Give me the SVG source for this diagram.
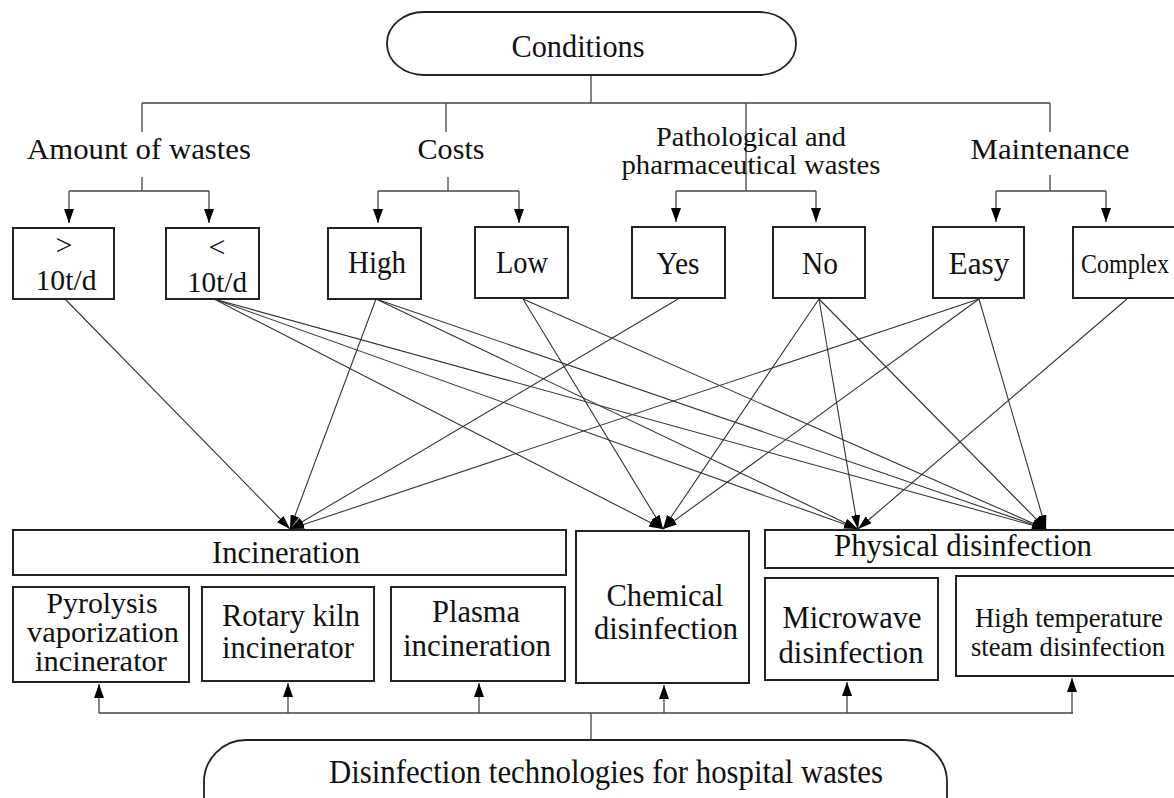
<svg xmlns="http://www.w3.org/2000/svg" width="1174" height="798" viewBox="0 0 1174 798">
<defs>
<style>
.bx{fill:#fff;stroke:#222;stroke-width:2}
.pill{fill:#fff;stroke:#222;stroke-width:1.8}
.ln{fill:none;stroke:#444;stroke-width:1.3}
.dg{fill:none;stroke:#333;stroke-width:1.1}
text{font-family:"Liberation Serif","Times New Roman",serif;fill:#111;text-anchor:middle}
.t30{font-size:30px}
.t31{font-size:31px}
.t27{font-size:27px}
</style>
<marker id="ah" viewBox="0 0 14 10" refX="14" refY="5" markerWidth="14" markerHeight="10" markerUnits="userSpaceOnUse" orient="auto">
<path d="M0,0 L14,5 L0,10 z" fill="#000"/>
</marker>
<marker id="ad" viewBox="0 0 14 9" refX="14" refY="4.5" markerWidth="14" markerHeight="9" markerUnits="userSpaceOnUse" orient="auto">
<path d="M0,0 L14,4.5 L0,9 z" fill="#000"/>
</marker>
</defs>

<g id="connectors">
<!-- top tree -->
<line class="ln" x1="591" y1="75" x2="591" y2="103"/>
<line class="ln" x1="142" y1="103" x2="1050" y2="103"/>
<line class="ln" x1="142" y1="103" x2="142" y2="132"/>
<line class="ln" x1="446" y1="103" x2="446" y2="132"/>
<line class="ln" x1="746" y1="103" x2="746" y2="191"/>
<line class="ln" x1="1050" y1="103" x2="1050" y2="132"/>
<line class="ln" x1="142" y1="177" x2="142" y2="191"/>
<line class="ln" x1="448" y1="177" x2="448" y2="191"/>
<line class="ln" x1="1050" y1="175" x2="1050" y2="191"/>
<line class="ln" x1="69" y1="191" x2="209" y2="191"/>
<line class="ln" x1="378" y1="191" x2="519" y2="191"/>
<line class="ln" x1="676" y1="191" x2="816" y2="191"/>
<line class="ln" x1="996" y1="191" x2="1106" y2="191"/>
<g marker-end="url(#ah)">
<line class="ln" x1="69" y1="191" x2="69" y2="223"/>
<line class="ln" x1="209" y1="191" x2="209" y2="223"/>
<line class="ln" x1="378" y1="191" x2="378" y2="223"/>
<line class="ln" x1="519" y1="191" x2="519" y2="223"/>
<line class="ln" x1="676" y1="191" x2="676" y2="222"/>
<line class="ln" x1="816" y1="191" x2="816" y2="222"/>
<line class="ln" x1="996" y1="191" x2="996" y2="222"/>
<line class="ln" x1="1106" y1="191" x2="1106" y2="222"/>
</g>
<!-- diagonal links -->
<g marker-end="url(#ad)">
<line class="dg" x1="65" y1="299" x2="290" y2="529"/>
<line class="dg" x1="214" y1="299" x2="663" y2="529"/>
<line class="dg" x1="214" y1="299" x2="858" y2="529"/>
<line class="dg" x1="214" y1="299" x2="1046" y2="529"/>
<line class="dg" x1="376" y1="299" x2="290" y2="529"/>
<line class="dg" x1="376" y1="299" x2="858" y2="529"/>
<line class="dg" x1="376" y1="299" x2="1046" y2="529"/>
<line class="dg" x1="523" y1="299" x2="663" y2="529"/>
<line class="dg" x1="523" y1="299" x2="1046" y2="529"/>
<line class="dg" x1="678" y1="299" x2="290" y2="529"/>
<line class="dg" x1="819" y1="299" x2="663" y2="529"/>
<line class="dg" x1="819" y1="299" x2="858" y2="529"/>
<line class="dg" x1="819" y1="299" x2="1046" y2="529"/>
<line class="dg" x1="979" y1="299" x2="290" y2="529"/>
<line class="dg" x1="979" y1="299" x2="663" y2="529"/>
<line class="dg" x1="979" y1="299" x2="1046" y2="529"/>
<line class="dg" x1="1127" y1="299" x2="858" y2="529"/>
</g>
<!-- bottom tree -->
<line class="ln" x1="591" y1="713" x2="591" y2="740"/>
<line class="ln" x1="99" y1="713" x2="1073" y2="713"/>
<g marker-end="url(#ah)">
<line class="ln" x1="99" y1="713" x2="99" y2="684"/>
<line class="ln" x1="288" y1="713" x2="288" y2="683"/>
<line class="ln" x1="479" y1="713" x2="479" y2="683"/>
<line class="ln" x1="664" y1="713" x2="664" y2="685"/>
<line class="ln" x1="847" y1="713" x2="847" y2="682"/>
<line class="ln" x1="1072" y1="713" x2="1072" y2="678"/>
</g>
</g>

<g id="conditions">
<rect class="pill" x="387" y="12" width="409" height="63" rx="37" ry="31"/>
<text x="578" y="57" style="font-size:32px" textLength="133" lengthAdjust="spacingAndGlyphs">Conditions</text>
</g>

<g id="label-amount"><text class="t30" x="139" y="159" textLength="224" lengthAdjust="spacingAndGlyphs">Amount of wastes</text></g>
<g id="label-costs"><text class="t30" x="451" y="159" textLength="67" lengthAdjust="spacingAndGlyphs">Costs</text></g>
<g id="label-patho">
<text x="751" y="146" style="font-size:28px" textLength="190" lengthAdjust="spacingAndGlyphs">Pathological and</text>
<text x="751" y="174" style="font-size:28px" textLength="259" lengthAdjust="spacingAndGlyphs">pharmaceutical wastes</text>
</g>
<g id="label-maint"><text class="t30" x="1050" y="159" textLength="159" lengthAdjust="spacingAndGlyphs">Maintenance</text></g>

<g id="gt10"><rect class="bx" x="13" y="228" width="101" height="71"/>
<text class="t30" x="64" y="255">&gt;</text><text class="t30" x="66" y="290" textLength="61" lengthAdjust="spacingAndGlyphs">10t/d</text></g>
<g id="lt10"><rect class="bx" x="166" y="228" width="93" height="71"/>
<text class="t30" x="217" y="257">&lt;</text><text class="t30" x="217" y="292" textLength="60" lengthAdjust="spacingAndGlyphs">10t/d</text></g>
<g id="high"><rect class="bx" x="328" y="228" width="93" height="71"/>
<text class="t31" x="377" y="273" textLength="58" lengthAdjust="spacingAndGlyphs">High</text></g>
<g id="low"><rect class="bx" x="475" y="227" width="93" height="71"/>
<text class="t31" x="522" y="273" textLength="52" lengthAdjust="spacingAndGlyphs">Low</text></g>
<g id="yes"><rect class="bx" x="632" y="227" width="93" height="71"/>
<text class="t31" x="678" y="274" textLength="43" lengthAdjust="spacingAndGlyphs">Yes</text></g>
<g id="no"><rect class="bx" x="773" y="227" width="92" height="71"/>
<text class="t31" x="820" y="274" textLength="36" lengthAdjust="spacingAndGlyphs">No</text></g>
<g id="easy"><rect class="bx" x="933" y="227" width="91" height="71"/>
<text class="t31" x="979" y="274" textLength="61" lengthAdjust="spacingAndGlyphs">Easy</text></g>
<g id="complex"><rect class="bx" x="1073" y="227" width="110" height="71"/>
<text x="1081" y="273" style="font-size:27px;text-anchor:start" textLength="88" lengthAdjust="spacingAndGlyphs">Complex</text></g>

<g id="incineration"><rect class="bx" x="13" y="530" width="553" height="45"/>
<text class="t31" x="286" y="563" textLength="148" lengthAdjust="spacingAndGlyphs">Incineration</text></g>
<g id="pyrolysis"><rect class="bx" x="13" y="587" width="176" height="95"/>
<text class="t30" x="102" y="613" textLength="111" lengthAdjust="spacingAndGlyphs">Pyrolysis</text><text class="t30" x="103" y="642" textLength="152" lengthAdjust="spacingAndGlyphs">vaporization</text><text class="t30" x="101" y="671" textLength="132" lengthAdjust="spacingAndGlyphs">incinerator</text></g>
<g id="rotary"><rect class="bx" x="202" y="587" width="172" height="94"/>
<text class="t31" x="291" y="626" textLength="138" lengthAdjust="spacingAndGlyphs">Rotary kiln</text><text class="t31" x="288" y="658" textLength="132" lengthAdjust="spacingAndGlyphs">incinerator</text></g>
<g id="plasma"><rect class="bx" x="391" y="587" width="174" height="94"/>
<text class="t31" x="476" y="622" textLength="88" lengthAdjust="spacingAndGlyphs">Plasma</text><text class="t31" x="477" y="656" textLength="148" lengthAdjust="spacingAndGlyphs">incineration</text></g>
<g id="chemical"><rect class="bx" x="576" y="531" width="173" height="152"/>
<text class="t31" x="665" y="606" textLength="117" lengthAdjust="spacingAndGlyphs">Chemical</text><text class="t31" x="666" y="639" textLength="144" lengthAdjust="spacingAndGlyphs">disinfection</text></g>
<g id="physical"><rect class="bx" x="765" y="530" width="420" height="38"/>
<text class="t31" x="963" y="556" textLength="258" lengthAdjust="spacingAndGlyphs">Physical disinfection</text></g>
<g id="microwave"><rect class="bx" x="765" y="578" width="173" height="102"/>
<text class="t31" x="852" y="628" textLength="139" lengthAdjust="spacingAndGlyphs">Microwave</text><text class="t31" x="851" y="663" textLength="145" lengthAdjust="spacingAndGlyphs">disinfection</text></g>
<g id="hightemp"><rect class="bx" x="956" y="576" width="230" height="100"/>
<text class="t27" x="1069" y="627" textLength="188" lengthAdjust="spacingAndGlyphs">High temperature</text><text class="t27" x="1068" y="656" textLength="194" lengthAdjust="spacingAndGlyphs">steam disinfection</text></g>

<g id="technologies">
<rect class="pill" x="204" y="740" width="743" height="100" rx="42" ry="42"/>
<text x="606" y="783" style="font-size:33px" textLength="554" lengthAdjust="spacingAndGlyphs">Disinfection technologies for hospital wastes</text>
</g>
</svg>
